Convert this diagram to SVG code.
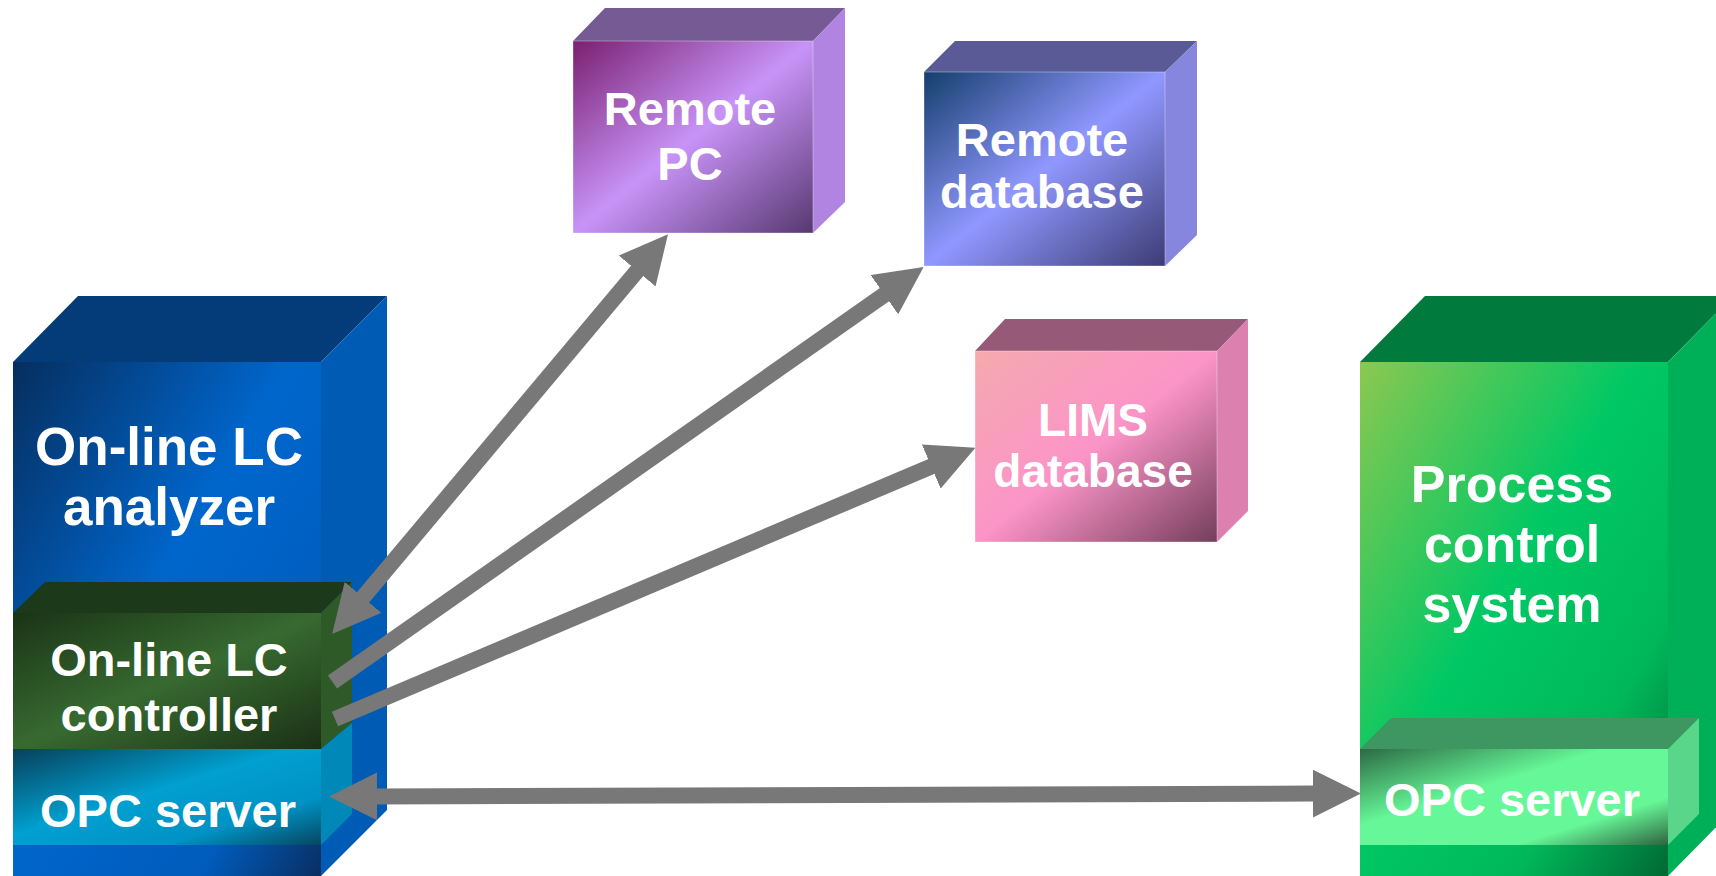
<svg xmlns="http://www.w3.org/2000/svg" width="1716" height="876" viewBox="0 0 1716 876">
<style>
  .t { font-family: "Liberation Sans", Arial, sans-serif; font-weight: bold; fill: #ffffff; text-anchor: middle; }
  .conn { stroke: #787878; stroke-width: 16; fill: none; stroke-linecap: butt; }
  .edge { stroke: rgba(255,255,255,0.35); stroke-width: 1; }
</style>
<defs>
  <marker id="ah" markerUnits="userSpaceOnUse" markerWidth="48" markerHeight="48" viewBox="0 0 47 47" refX="1" refY="23.5" orient="auto-start-reverse">
    <path d="M0,0 L47,23.5 L0,47 Z" fill="#787878"/>
  </marker>
  <linearGradient id="gBlue" x1="0" y1="0" x2="1" y2="1">
    <stop offset="0" stop-color="#062e5e"/>
    <stop offset="0.45" stop-color="#0066cc"/>
    <stop offset="0.8" stop-color="#005cbc"/>
    <stop offset="1" stop-color="#0a2e62"/>
  </linearGradient>
  <linearGradient id="gCtrl" x1="0" y1="0" x2="1" y2="1">
    <stop offset="0" stop-color="#1a3316"/>
    <stop offset="0.5" stop-color="#376a30"/>
    <stop offset="1" stop-color="#1a3015"/>
  </linearGradient>
  <linearGradient id="gOpcL" x1="0" y1="0" x2="1" y2="1">
    <stop offset="0" stop-color="#08405c"/>
    <stop offset="0.45" stop-color="#00a0d0"/>
    <stop offset="0.75" stop-color="#0092c4"/>
    <stop offset="1" stop-color="#064660"/>
  </linearGradient>
  <linearGradient id="gGreen" x1="0" y1="0" x2="1" y2="1">
    <stop offset="0" stop-color="#8cc850"/>
    <stop offset="0.45" stop-color="#00c864"/>
    <stop offset="0.75" stop-color="#00b85a"/>
    <stop offset="1" stop-color="#006a34"/>
  </linearGradient>
  <linearGradient id="gOpcR" x1="0" y1="0" x2="1" y2="1">
    <stop offset="0" stop-color="#2c6a44"/>
    <stop offset="0.4" stop-color="#66f898"/>
    <stop offset="0.75" stop-color="#66f898"/>
    <stop offset="1" stop-color="#2e6440"/>
  </linearGradient>
  <linearGradient id="gPC" x1="0" y1="0" x2="1" y2="1">
    <stop offset="0" stop-color="#7a2070"/>
    <stop offset="0.5" stop-color="#c893f8"/>
    <stop offset="1" stop-color="#583870"/>
  </linearGradient>
  <linearGradient id="gRDB" x1="0" y1="0" x2="1" y2="1">
    <stop offset="0" stop-color="#143e6c"/>
    <stop offset="0.5" stop-color="#9098ff"/>
    <stop offset="1" stop-color="#3c3c74"/>
  </linearGradient>
  <linearGradient id="gLIMS" x1="0" y1="0" x2="1" y2="1">
    <stop offset="0" stop-color="#f4aaae"/>
    <stop offset="0.5" stop-color="#fc94c8"/>
    <stop offset="1" stop-color="#743e5c"/>
  </linearGradient>
</defs>
<rect width="1716" height="876" fill="#ffffff"/>

<g id="analyzer">
  <polygon points="13,362 78,296 387,296 321,362" fill="#033c78"/>
  <polygon points="321,362 387,296 387,810 321,876" fill="#005bb5"/>
  <rect x="13" y="362" width="308" height="514" fill="url(#gBlue)"/>
  <text class="t" x="169" y="465" font-size="53">On-line LC</text>
  <text class="t" x="169" y="525" font-size="53">analyzer</text>
</g>

<g id="controller">
  <polygon points="13,613 45,582 352,582 321,613" fill="#1c3a19"/>
  <polygon points="321,613 352,582 352,723 321,749" fill="#2e5a28"/>
  <rect x="13" y="613" width="308" height="136" fill="url(#gCtrl)"/>
  <text class="t" x="169" y="676" font-size="47">On-line LC</text>
  <text class="t" x="169" y="731" font-size="47">controller</text>
</g>

<g id="opc-left">
  <polygon points="321,749 352,723 352,814 321,845" fill="#0088b8"/>
  <rect x="13" y="749" width="308" height="96" fill="url(#gOpcL)"/>
  <text class="t" x="168" y="827" font-size="47">OPC server</text>
</g>

<g id="process-control">
  <polygon points="1360,362 1425,296 1733,296 1668,362" fill="#007a3d"/>
  <polygon points="1668,362 1733,296 1733,810 1668,876" fill="#00b058"/>
  <rect x="1360" y="362" width="308" height="514" fill="url(#gGreen)"/>
  <text class="t" x="1512" y="502" font-size="52">Process</text>
  <text class="t" x="1512" y="562" font-size="52">control</text>
  <text class="t" x="1512" y="622" font-size="52">system</text>
</g>

<g id="opc-right">
  <polygon points="1360,749 1391,718 1699,718 1668,749" fill="#3e9660"/>
  <polygon points="1668,749 1699,718 1699,814 1668,845" fill="#5ad68a"/>
  <rect x="1360" y="749" width="308" height="96" fill="url(#gOpcR)"/>
  <text class="t" x="1512" y="816" font-size="47">OPC server</text>
</g>

<g id="remote-pc">
  <polygon points="573,41 605,8 845,8 813,41" fill="#765a94"/>
  <polygon points="813,41 845,8 845,202 813,233" fill="#b084e0"/>
  <rect x="573" y="41" width="240" height="192" fill="url(#gPC)" class="edge"/>
  <text class="t" x="690" y="125" font-size="47">Remote</text>
  <text class="t" x="690" y="180" font-size="47">PC</text>
</g>

<g id="remote-database">
  <polygon points="924,72 955,41 1197,41 1165,72" fill="#5a5a96"/>
  <polygon points="1165,72 1197,41 1197,235 1165,266" fill="#8686de"/>
  <rect x="924" y="72" width="241" height="194" fill="url(#gRDB)" class="edge"/>
  <text class="t" x="1042" y="156" font-size="47">Remote</text>
  <text class="t" x="1042" y="208" font-size="47">database</text>
</g>

<g id="lims-database">
  <polygon points="975,351 1005,319 1248,319 1217,351" fill="#965a78"/>
  <polygon points="1217,351 1248,319 1248,511 1217,542" fill="#dc80b0"/>
  <rect x="975" y="351" width="242" height="191" fill="url(#gLIMS)" class="edge"/>
  <text class="t" x="1093" y="436" font-size="46">LIMS</text>
  <text class="t" x="1093" y="487" font-size="46">database</text>
</g>

<g id="connectors">
  <line class="conn" x1="362.4" y1="598.1" x2="637.8" y2="270.2" marker-start="url(#ah)" marker-end="url(#ah)"/>
  <line class="conn" x1="332.5" y1="682" x2="885.2" y2="294.1" marker-end="url(#ah)"/>
  <line class="conn" x1="335" y1="719" x2="932.2" y2="466.1" marker-end="url(#ah)"/>
  <line class="conn" x1="376" y1="796.4" x2="1314" y2="793.6" marker-start="url(#ah)" marker-end="url(#ah)"/>
</g>
</svg>
